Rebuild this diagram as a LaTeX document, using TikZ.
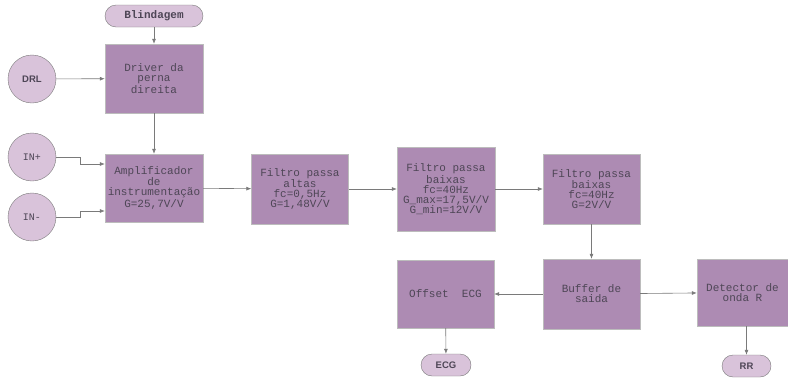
\documentclass[tikz,border=0pt]{standalone}
\usepackage{fontspec}
\setmonofont{Liberation Mono}
\setsansfont{Liberation Sans}
\usetikzlibrary{arrows.meta}
\definecolor{boxfill}{HTML}{AD8BB3}
\definecolor{termfill}{HTML}{D9C3DA}
\definecolor{textgray}{HTML}{4E4656}
\definecolor{linegray}{HTML}{7A7A7A}

\begin{document}
\begin{tikzpicture}[x=1pt,y=-1pt]
\tikzstyle{block}=[rectangle, draw=linegray!50, fill=boxfill, text=textgray, minimum width=98pt, minimum height=69pt, inner sep=1pt, align=center, font=\ttfamily\fontsize{11}{10}\selectfont]
\tikzstyle{port}=[circle, draw=linegray, fill=termfill, text=textgray, minimum size=48pt, inner sep=0pt]
\tikzstyle{term}=[rectangle, rounded corners=11pt, draw=linegray, fill=termfill, text=textgray, minimum height=22pt, inner sep=0pt]
\tikzstyle{arr}=[draw=linegray, line width=0.6pt, -{Latex[length=5pt,width=4pt]}]
\useasboundingbox (0,0) rectangle (788,378);

\node[term, minimum width=98pt, font=\ttfamily\bfseries\fontsize{11}{10}\selectfont] (blind) at (154,16) {Blindagem};
\node[block] (driver) at (154,78.5) {Driver da\\perna\\direita};
\node[port, font=\sffamily\bfseries\fontsize{9.5}{10}\selectfont] (drl) at (32,79) {DRL};
\node[port, font=\ttfamily\fontsize{10}{10}\selectfont] (inp) at (32,157) {IN+};
\node[port, font=\ttfamily\fontsize{10}{10}\selectfont] (inm) at (32,217) {IN-};
\node[block, minimum height=68pt] (amp) at (154,188) {Amplificador\\de\\instrumentação\\G=25,7V/V};
\node[block, minimum width=97pt, minimum height=70pt] (fpa) at (300,189) {Filtro passa\\altas\\fc=0,5Hz\\G=1,48V/V};
\node[block, minimum height=84pt] (fpb1) at (446,189) {Filtro passa\\baixas\\fc=40Hz\\G\_max=17,5V/V\\G\_min=12V/V};
\node[block, minimum width=97pt, minimum height=70pt] (fpb2) at (591.5,189) {Filtro passa\\baixas\\fc=40Hz\\G=2V/V};
\node[block, minimum width=97pt, minimum height=70pt] (buf) at (591.5,294) {Buffer de\\saida};
\node[block, minimum width=97pt, minimum height=68pt] (off) at (445.5,294) {Offset~~ECG};
\node[block, minimum width=91pt, minimum height=67pt] (det) at (742.5,292.5) {Detector de\\onda R};
\node[term, minimum width=50pt, font=\sffamily\bfseries\fontsize{9.5}{10}\selectfont] (ecg) at (446,365) {ECG};
\node[term, minimum width=49pt, font=\sffamily\bfseries\fontsize{9.5}{10}\selectfont] (rr) at (746.5,366) {RR};

\draw[arr] (blind) -- (driver);
\draw[arr] (drl) -- (driver);
\draw[arr] (driver) -- (amp);
\draw[arr] (inp.east) -- ++(24,0) |- ([yshift=24pt]amp.west);
\draw[arr] (inm.east) -- ++(24,0) |- ([yshift=-23pt]amp.west);
\draw[arr] (amp) -- (fpa);
\draw[arr] (fpa) -- (fpb1);
\draw[arr] (fpb1) -- (fpb2);
\draw[arr] (fpb2) -- (buf);
\draw[arr] (buf) -- (off);
\draw[arr] (buf) -- (det);
\draw[arr] (off) -- (ecg);
\draw[arr] (det.south -| rr) -- (rr);

\end{tikzpicture}
\end{document}
